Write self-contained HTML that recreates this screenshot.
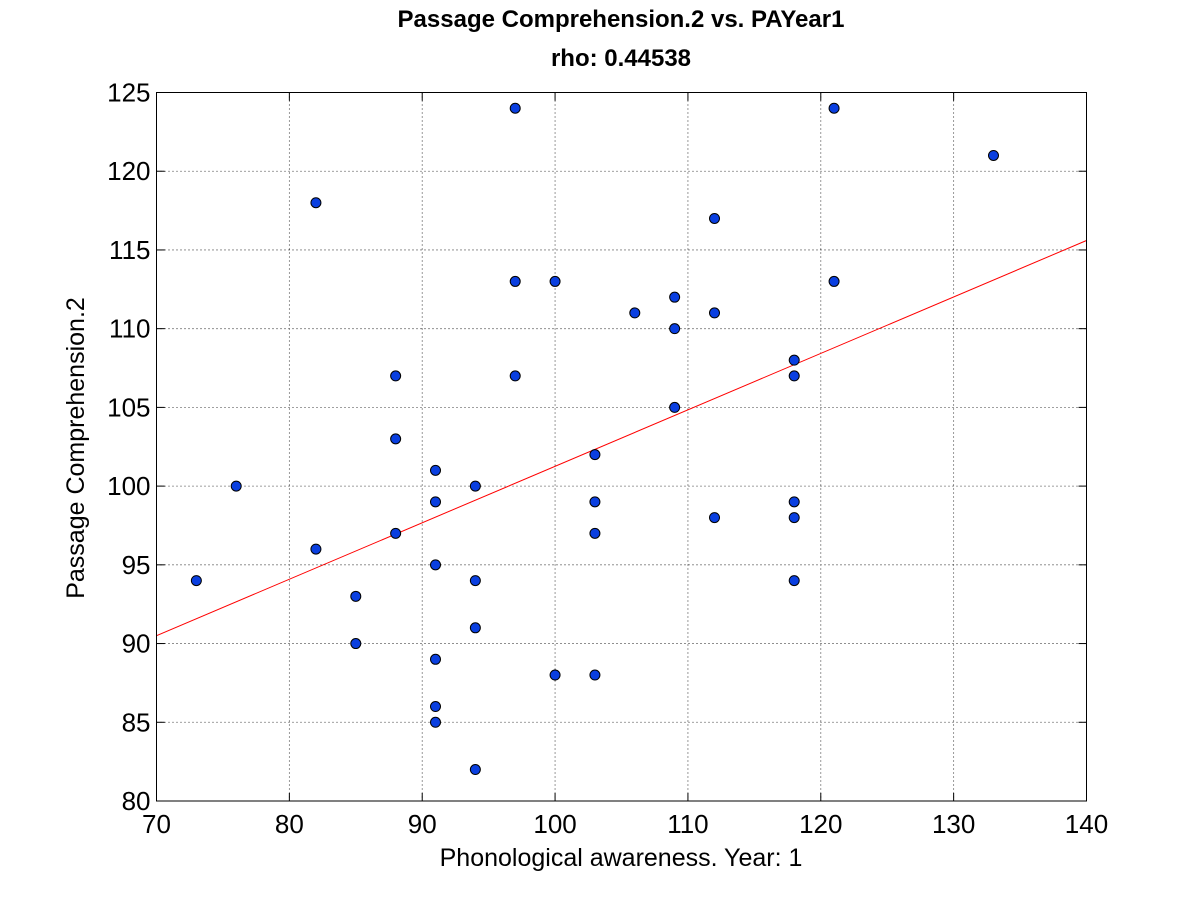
<!DOCTYPE html>
<html><head><meta charset="utf-8"><style>
html,body{margin:0;padding:0;background:#fff;}
svg{display:block;font-family:"Liberation Sans",sans-serif;}
</style></head><body>
<svg id="chart" width="1200" height="900" xmlns="http://www.w3.org/2000/svg">
<rect width="1200" height="900" fill="#fff"/>
<text x="621" y="27" text-anchor="middle" font-size="24" font-weight="bold">Passage Comprehension.2 vs. PAYear1</text>
<text x="621" y="66" text-anchor="middle" font-size="24" font-weight="bold">rho: 0.44538</text>
<g id="grid"></g>
<g id="ticks"></g>
<g id="marks"></g>
<rect x="156.5" y="92.5" width="930" height="708.5" fill="none" stroke="#000" stroke-width="1"/>
<text x="621" y="866" text-anchor="middle" font-size="25">Phonological awareness. Year: 1</text>
<text transform="translate(84,448) rotate(-90)" text-anchor="middle" font-size="25">Passage Comprehension.2</text>
</svg>
<script>
const xVals=[73,76,82,82,85,85,88,88,88,91,91,91,91,91,91,94,94,94,94,97,97,97,100,100,103,103,103,103,106,109,109,109,112,112,112,118,118,118,118,118,121,121,133];
const yVals=[94,100,118,96,93,90,107,103,97,101,99,95,89,86,85,100,94,91,82,124,113,107,113,88,102,99,97,88,111,112,110,105,117,111,98,108,107,99,98,94,124,113,121];
const fitX=[70,140];
const fitY=[90.5,115.6];
const xTicks=[70,80,90,100,110,120,130,140];
const yTicks=[80,85,90,95,100,105,110,115,120,125];
const X0=156.5,X1=1086.5,Y0=801,Y1=92.5,xmin=70,xmax=140,ymin=80,ymax=125;
const sx=v=>X0+(v-xmin)/(xmax-xmin)*(X1-X0);
const sy=v=>Y0-(v-ymin)/(ymax-ymin)*(Y0-Y1);
const NS="http://www.w3.org/2000/svg";
function mk(tag,attrs,parent){const e=document.createElementNS(NS,tag);for(const k in attrs)e.setAttribute(k,attrs[k]);parent.appendChild(e);return e;}
const grid=document.getElementById('grid'),ticks=document.getElementById('ticks'),marks=document.getElementById('marks');
xTicks.forEach(t=>{const x=sx(t);
 if(t>xmin&&t<xmax){const g=mk('line',{x1:x,x2:x,y1:Y1,y2:Y0,stroke:'#000','stroke-width':0.8,'stroke-dasharray':'1,3'},grid);
 
 }
 mk('line',{x1:x,x2:x,y1:Y0,y2:Y0-8,stroke:'#000'},ticks);
 mk('line',{x1:x,x2:x,y1:Y1,y2:Y1+8,stroke:'#000'},ticks);
 const tx=mk('text',{x:x,y:Y0+32,'text-anchor':'middle','font-size':26},ticks);tx.textContent=t;
 
 
});
yTicks.forEach(t=>{const y=sy(t);
 if(t>ymin&&t<ymax){const g=mk('line',{x1:X0,x2:X1,y1:y,y2:y,stroke:'#000','stroke-width':0.8,'stroke-dasharray':'1,3'},grid);
 
 }
 mk('line',{x1:X0,x2:X0+8,y1:y,y2:y,stroke:'#000'},ticks);
 mk('line',{x1:X1,x2:X1-8,y1:y,y2:y,stroke:'#000'},ticks);
 const tx=mk('text',{x:X0-6,y:y+9,'text-anchor':'end','font-size':26},ticks);tx.textContent=t;
 
 
});
const fl=mk('line',{x1:sx(fitX[0]),y1:sy(fitY[0]),x2:sx(fitX[1]),y2:sy(fitY[1]),stroke:'#ff0000','stroke-width':1},marks);


for(let i=0;i<xVals.length;i++){
 const c=mk('circle',{cx:sx(xVals[i]),cy:sy(yVals[i]),r:5,fill:'#0a3fe0',stroke:'#000','stroke-width':1},marks);
 
 
}
</script>
</body></html>
